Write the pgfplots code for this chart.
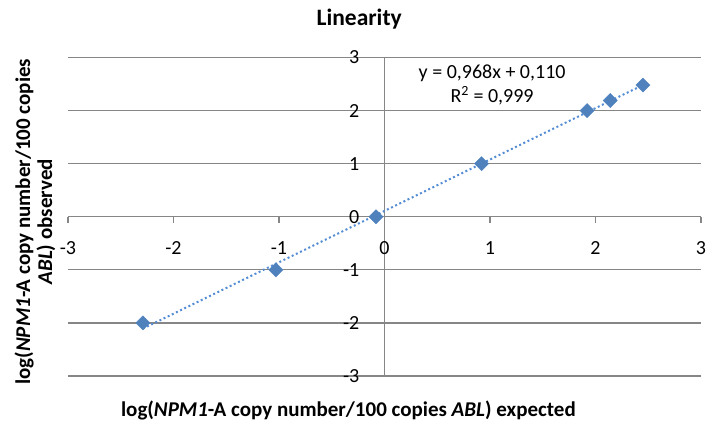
\documentclass[border=0pt]{standalone}
\usepackage{pgfplots}
\pgfplotsset{compat=1.18}
\usetikzlibrary{calc}
\usepackage{fontspec}
\setmainfont{Carlito}
\definecolor{gridgray}{RGB}{134,134,134}
\definecolor{ser}{RGB}{79,129,189}
\definecolor{trend}{RGB}{84,141,212}
\begin{document}
\begin{tikzpicture}
\begin{axis}[
  scale only axis, width=633pt, height=318.5pt,
  xmin=-3, xmax=3, ymin=-3, ymax=3,
  axis lines=middle,
  axis line style={draw=gridgray, line width=1.2pt, -},
  hide obscured x ticks=false, hide obscured y ticks=false,
  xtick={-3,-2,-1,0,1,2,3}, ytick={-3,-2,-1,0,1,2,3},
  xticklabels={-3,-2,-1,0,1,2,3}, yticklabels={-3,-2,-1,0,1,2,3},
  ymajorgrids, grid style={draw=gridgray, line width=1.2pt},
  tick style={draw=gridgray, line width=1.2pt},
  major tick length=6pt, tick align=outside,
  xticklabel style={anchor=center, yshift=-25.5pt, font=\fontsize{20}{22}\selectfont},
  yticklabel style={anchor=east, inner sep=0pt, xshift=-19pt, font=\fontsize{20}{22}\selectfont},
  clip=false,
]
\addplot[draw=trend, line width=2pt, dash pattern=on 2pt off 2.6pt] coordinates {(-2.29,-2.107) (2.45,2.482)};
\addplot[only marks, mark=square*, mark size=5pt, mark options={rotate=45, fill=ser, draw=ser}] coordinates {
(-2.29,-2) (-1.03,-1) (-0.08,0) (0.92,1) (1.92,2) (2.14,2.19) (2.45,2.48)};
\node[font=\fontsize{20}{24}\selectfont, align=center] at (axis cs:1.02,2.48) {y = 0,968x + 0,110\\R\textsuperscript{2} = 0,999};
\node[font=\bfseries\fontsize{23.5}{26}\selectfont] at ($(rel axis cs:0.46,1)+(0pt,38.5pt)$) {Linearity};
\node[font=\bfseries\fontsize{21}{22}\selectfont, anchor=base] at ($(rel axis cs:0.443,0)+(0pt,-40.7pt)$) {log(\textit{NPM1}-A copy number/100 copies \textit{ABL}) expected};
\node[font=\bfseries\fontsize{21}{22}\selectfont, rotate=90, align=center] at ($(rel axis cs:0,0.5)+(-33pt,-5pt)$) {log(\textit{NPM1}-A copy number/100 copies\\\textit{ABL}) observed};
\coordinate (ll) at (rel axis cs:0,0);
\end{axis}
\pgfresetboundingbox
\path (ll) ++(-68pt,-47pt) rectangle ++(707pt,423pt);
\end{tikzpicture}
\end{document}
